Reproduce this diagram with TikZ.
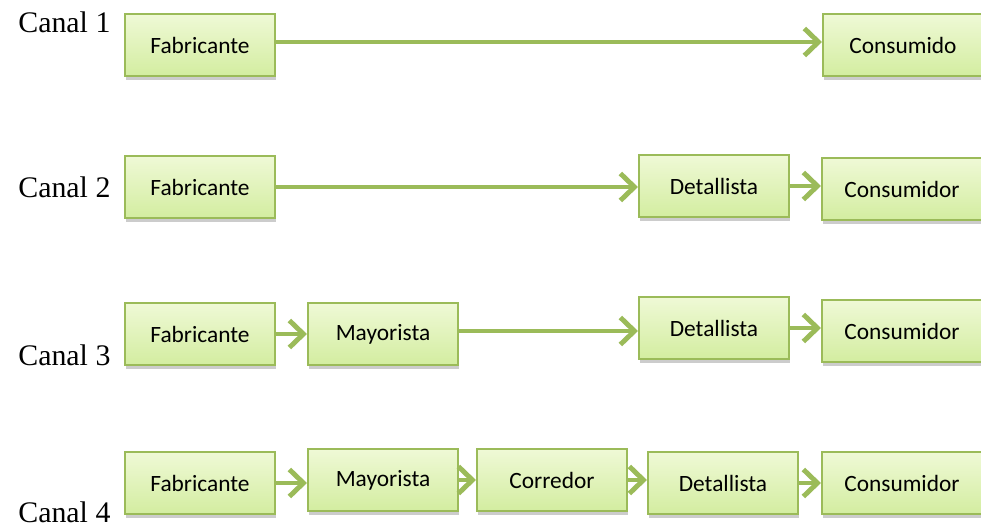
\documentclass[tikz,border=0pt]{standalone}
\usepackage{fontspec}
\setmainfont{Liberation Serif}
\newfontfamily\boxfont{Carlito}
\usetikzlibrary{arrows.meta,shadows}

\definecolor{olivegreen}{HTML}{9BBB59}
\definecolor{boxtop}{HTML}{EFF9D6}
\definecolor{boxbottom}{HTML}{D3EDA0}

\tikzset{
  caja/.style={draw=olivegreen, line width=1.2pt, top color=boxtop, bottom color=boxbottom,
    minimum width=3cm, minimum height=1.24cm, font=\boxfont\fontsize{13.3}{15}\selectfont,
    drop shadow={shadow xshift=0.5pt, shadow yshift=-2.5pt, opacity=0.4}},
  flecha/.style={draw=olivegreen, line width=2.8pt, -{Straight Barb[length=2.8mm,width=5.4mm]}},
  canal/.style={anchor=west, font=\fontsize{17}{20}\selectfont, inner sep=0pt}
}

\begin{document}
\begin{tikzpicture}[x=0.02cm,y=-0.02cm]
  \useasboundingbox (0,0) rectangle (981,527);
  % Canal 1
  \node[canal] (canal1) at (18,22) {Canal 1};
  \node[caja] (fab1) at (200,45) {Fabricante};
  \node[caja, minimum width=3.2cm] (cons1) at (903,45) {Consumido};
  % Canal 2
  \node[canal] (canal2) at (18,187) {Canal 2};
  \node[caja] (fab2) at (200,187) {Fabricante};
  \node[caja] (det2) at (714,186) {Detallista};
  \node[caja, minimum width=3.2cm] (cons2) at (902,189) {Consumidor};
  % Canal 3
  \node[canal] (canal3) at (18,355) {Canal 3};
  \node[caja] (fab3) at (200,334) {Fabricante};
  \node[caja] (may3) at (383,334) {Mayorista};
  \node[caja] (det3) at (714,328) {Detallista};
  \node[caja, minimum width=3.2cm] (cons3) at (902,331) {Consumidor};
  % Canal 4
  \node[canal] (canal4) at (18,512) {Canal 4};
  \node[caja] (fab4) at (200,483) {Fabricante};
  \node[caja] (may4) at (383,480) {Mayorista};
  \node[caja] (corr4) at (552,480) {Corredor};
  \node[caja] (det4) at (723,483) {Detallista};
  \node[caja, minimum width=3.2cm] (cons4) at (902,483) {Consumidor};
  %
  \draw[flecha] ([yshift=0.06cm]fab1.east) -- ([yshift=0.06cm]fab1.east -| cons1.west);
  \draw[flecha] (fab2.east) -- (fab2.east -| det2.west);
  \draw[flecha] (det2.east) -- (det2.east -| cons2.west);
  \draw[flecha] (fab3.east) -- (fab3.east -| may3.west);
  \draw[flecha] ([yshift=0.06cm]may3.east) -- ([yshift=0.06cm]may3.east -| det3.west);
  \draw[flecha] (det3.east) -- (det3.east -| cons3.west);
  \draw[flecha] (fab4.east) -- (fab4.east -| may4.west);
  \draw[flecha] (may4.east) -- (may4.east -| corr4.west);
  \draw[flecha] (corr4.east) -- (corr4.east -| det4.west);
  \draw[flecha] (det4.east) -- (det4.east -| cons4.west);
\end{tikzpicture}
\end{document}
